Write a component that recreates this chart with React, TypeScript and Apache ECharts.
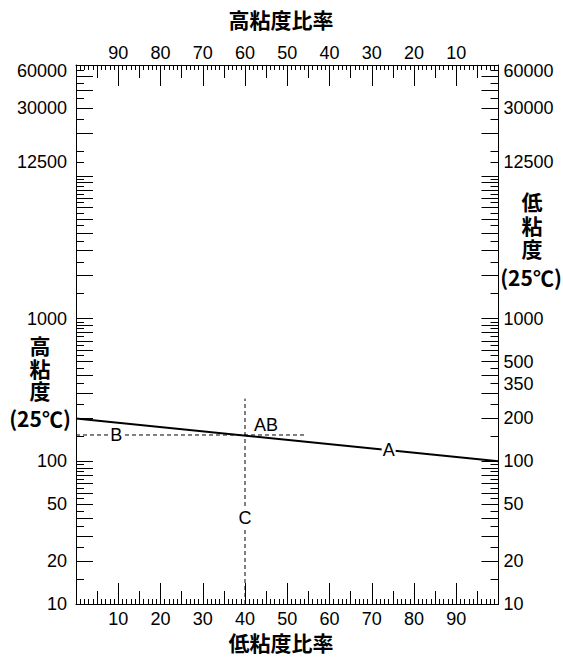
import React, { useEffect, useRef } from "react";
import * as echarts from "echarts";

// ---- data ----
const lowRatioLabels = [10, 20, 30, 40, 50, 60, 70, 80, 90];
const highRatioLabels = [10, 20, 30, 40, 50, 60, 70, 80, 90];
const leftViscLabels = [10, 20, 50, 100, 1000, 12500, 30000, 60000];
const rightViscLabels = [10, 20, 50, 100, 200, 350, 500, 1000, 12500, 30000, 60000];
const viscMajorTicks = [
  10, 20, 30, 40, 50, 60, 70, 80, 90, 100, 200, 300, 400, 500, 600, 700, 800, 900, 1000,
  2000, 3000, 4000, 5000, 6000, 7000, 8000, 9000, 10000, 20000, 30000, 40000, 50000, 60000,
];
const viscMinorTicks = [
  15, 25, 35, 45, 55, 65, 75, 85, 95, 150, 250, 350, 450, 550, 650, 750, 850, 950,
  1500, 2500, 3500, 4500, 5500, 6500, 7500, 8500, 9500, 12500, 15000, 25000, 35000, 45000, 55000,
];
const ratioMajorTicks = [0, 10, 20, 30, 40, 50, 60, 70, 80, 90, 100];
const ratioMidTicks = [5, 15, 25, 35, 45, 55, 65, 75, 85, 95];

// blend line: low-viscosity ratio -> viscosity
const blendRatio = [0, 100];
const blendViscosity = [200, 100];
// construction lines
const abRatio = 40;
const abViscosity = 153;
const abDashEndRatio = 54;
const cDashTopViscosity = 275;
const cDashBottomViscosity = 10;
// point labels
const pointNames = ["A", "B", "C", "AB"];
const pointRatios = [74, 9.5, 40, 40];
const pointViscosities = [120, 153, 40, 153];

// axis titles
const topTitle = "高粘度比率";
const bottomTitle = "低粘度比率";
const leftTitleChars = ["高", "粘", "度"];
const rightTitleChars = ["低", "粘", "度"];
const tempText = "(25℃)";

const V_MIN = 10;
const V_MAX = 60000;

const FONT = '"Liberation Sans", Arial, Helvetica, sans-serif';
const CJK = '"Noto Sans CJK JP", "Noto Sans CJK SC", sans-serif';
const L = (v: number) => Math.log10(v);

export default function App() {
  const ref = useRef<HTMLDivElement>(null);

  useEffect(() => {
    if (!ref.current) return;
    const chart = echarts.init(ref.current, undefined, { renderer: "svg" });

    const ratioMinorTicks: number[] = [];
    for (let i = 1; i < 100; i++) if (i % 5 !== 0) ratioMinorTicks.push(i);

    const black = "#000";
    const xAxisDef = (
      position: "top" | "bottom",
      inverse: boolean,
      ticks: number[],
      len: number,
      labels: number[] | null,
      showLine: boolean
    ) => ({
      type: "value",
      min: 0,
      max: 100,
      position,
      inverse,
      gridIndex: 0,
      axisLine: { show: showLine, onZero: false, lineStyle: { color: black, width: 1 } },
      axisTick: { show: true, inside: true, length: len, customValues: ticks, lineStyle: { color: black, width: 1 } },
      axisLabel: labels
        ? {
            show: true,
            customValues: labels,
            fontSize: 18,
            fontFamily: FONT,
            color: black,
            margin: position === "top" ? 3 : 6,
          }
        : { show: false },
      splitLine: { show: false },
      minorTick: { show: false },
    });

    const viscFormatter = (val: number) => {
      const v = Math.round(Math.pow(10, val));
      if (v === V_MAX) return "{top|" + v + "}";
      return String(v);
    };

    const yAxisDef = (
      position: "left" | "right",
      ticks: number[],
      len: number,
      labels: number[] | null,
      showLine: boolean
    ) => ({
      type: "value",
      min: L(V_MIN),
      max: L(V_MAX),
      position,
      gridIndex: 0,
      axisLine: { show: showLine, onZero: false, lineStyle: { color: black, width: 1 } },
      axisTick: {
        show: true,
        inside: true,
        length: len,
        customValues: ticks.map(L),
        lineStyle: { color: black, width: 1 },
      },
      axisLabel: labels
        ? {
            show: true,
            customValues: labels.map(L),
            fontSize: 18,
            fontFamily: FONT,
            color: black,
            margin: position === "left" ? 9 : 5,
            formatter: viscFormatter,
            rich: {
              top: { fontSize: 18, fontFamily: FONT, color: black, padding: [12, 0, 0, 0] },
            },
          }
        : { show: false },
      splitLine: { show: false },
      minorTick: { show: false },
    });

    const titleText = (text: string, x: number, y: number, size = 21) => ({
      type: "text",
      x,
      y,
      style: {
        text,
        font: `bold ${size}px ${CJK}`,
        fill: black,
        lineHeight: 22,
        textAlign: "center",
        textVerticalAlign: "middle",
        align: "center",
        verticalAlign: "middle",
      },
    });

    const graphics: any[] = [
      titleText(topTitle, 281, 19),
      titleText(bottomTitle, 281, 642),
      titleText(tempText, 40, 418),
      titleText(tempText, 531, 277),
    ];
    leftTitleChars.forEach((c, i) => graphics.push(titleText(c, 40, 345 + i * 22.5)));
    rightTitleChars.forEach((c, i) => graphics.push(titleText(c, 532, 201 + i * 23.7)));

    const option: any = {
      animation: false,
      backgroundColor: "#fff",
      grid: { left: 76, right: 64.5, top: 65, bottom: 54, containLabel: false },
      xAxis: [
        xAxisDef("bottom", false, ratioMajorTicks, 21, lowRatioLabels, true),
        xAxisDef("bottom", false, ratioMidTicks, 13, null, false),
        xAxisDef("bottom", false, ratioMinorTicks, 5, null, false),
        xAxisDef("top", true, ratioMajorTicks, 21, highRatioLabels, true),
        xAxisDef("top", true, ratioMidTicks, 13, null, false),
        xAxisDef("top", true, ratioMinorTicks, 5, null, false),
      ],
      yAxis: [
        yAxisDef("left", viscMajorTicks, 17, leftViscLabels, true),
        yAxisDef("left", viscMinorTicks, 8, null, false),
        yAxisDef("right", viscMajorTicks, 17, rightViscLabels, true),
        yAxisDef("right", viscMinorTicks, 8, null, false),
      ],
      graphic: graphics,
      series: [
        {
          type: "line",
          xAxisIndex: 0,
          yAxisIndex: 0,
          data: blendRatio.map((x, i) => [x, L(blendViscosity[i])]),
          symbol: "none",
          lineStyle: { color: black, width: 2 },
          z: 3,
          silent: true,
        },
        {
          type: "line",
          xAxisIndex: 0,
          yAxisIndex: 0,
          data: [
            [0, L(abViscosity)],
            [abDashEndRatio, L(abViscosity)],
          ],
          symbol: "none",
          lineStyle: { color: black, width: 1, type: [4, 3] },
          z: 2,
          silent: true,
        },
        {
          type: "line",
          xAxisIndex: 0,
          yAxisIndex: 0,
          data: [
            [abRatio, L(cDashBottomViscosity)],
            [abRatio, L(cDashTopViscosity)],
          ],
          symbol: "none",
          lineStyle: { color: black, width: 1, type: [4, 3] },
          z: 2,
          silent: true,
        },
        {
          type: "scatter",
          xAxisIndex: 0,
          yAxisIndex: 0,
          symbol: "circle",
          symbolSize: 1,
          itemStyle: { color: "#fff", opacity: 0 },
          z: 10,
          silent: true,
          data: pointNames.map((name, i) => {
            const item: any = { name, value: [pointRatios[i], L(pointViscosities[i])] };
            if (name === "AB") {
              item.label = { backgroundColor: "transparent", offset: [21, -10] };
            }
            return item;
          }),
          label: {
            show: true,
            position: "inside",
            formatter: "{b}",
            fontSize: 18,
            fontFamily: FONT,
            color: "#000",
            opacity: 1,
            textBorderWidth: 0,
            backgroundColor: "#fff",
            padding: [0, 1],
          },
        },
      ],
    };

    chart.setOption(option);
    return () => chart.dispose();
  }, []);

  return (
    <div
      ref={ref}
      style={{ position: "absolute", left: 0, top: 0, width: 563, height: 658, background: "#fff" }}
    />
  );
}
